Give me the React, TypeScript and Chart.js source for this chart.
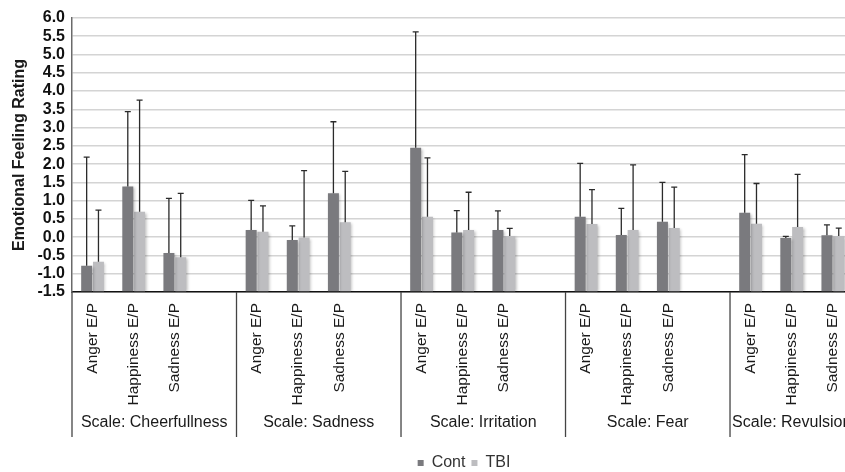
import React, { useEffect, useRef } from "react";
import { Chart, registerables } from "chart.js";

Chart.register(...registerables);

// ---------- data ----------
const scaleNames = [
  "Scale: Cheerfullness",
  "Scale: Sadness",
  "Scale: Irritation",
  "Scale: Fear",
  "Scale: Revulsion",
];
const emotionLabels = ["Anger E/P", "Happiness E/P", "Sadness E/P", ""];
// last group has no trailing blank slot
const groupSizes = [4, 4, 4, 4, 3];
const categories = scaleNames.flatMap((_, g) => emotionLabels.slice(0, groupSizes[g]));

const contMeans = [-0.78, 1.39, -0.43, null, 0.2, -0.08, 1.2, null, 2.45, 0.13, 0.2, null, 0.56, 0.06, 0.42, null, 0.67, -0.02, 0.05];
const contSD = [2.97, 2.05, 1.49, null, 0.81, 0.39, 1.96, null, 3.17, 0.6, 0.52, null, 1.46, 0.73, 1.08, null, 1.59, 0.04, 0.29];
const tbiMeans = [-0.67, 0.7, -0.55, null, 0.15, -0.01, 0.41, null, 0.56, 0.2, 0.03, null, 0.36, 0.2, 0.25, null, 0.37, 0.28, 0.03];
const tbiSD = [1.41, 3.05, 1.75, null, 0.71, 1.83, 1.39, null, 1.61, 1.03, 0.21, null, 0.94, 1.78, 1.12, null, 1.1, 1.44, 0.22];

const yMin = -1.5;
const yMax = 6.0;
const yStep = 0.5;
const seriesNames = ["Cont", "TBI"];
const yTitle = "Emotional Feeling Rating";

const errorArrays = [contSD, tbiSD];

const FONT = "'Liberation Sans', Arial, Helvetica, sans-serif";

const errorBarPlugin = {
  id: "errorBars",
  beforeDatasetsDraw(chart: any) {
    const ctx = chart.ctx;
    ctx.save();
    ctx.shadowColor = "rgba(0,0,0,0.28)";
    ctx.shadowBlur = 3;
    ctx.shadowOffsetX = 1.5;
    ctx.shadowOffsetY = 1;
  },
  afterDatasetsDraw(chart: any) {
    const ctx = chart.ctx;
    ctx.restore();
    const ys = chart.scales.y;
    chart.data.datasets.forEach((ds: any, di: number) => {
      const meta = chart.getDatasetMeta(di);
      const errs = errorArrays[di];
      meta.data.forEach((el: any, i: number) => {
        const v = ds.data[i];
        const e = errs[i];
        if (v == null || e == null) return;
        const x = el.x;
        const y0 = ys.getPixelForValue(v);
        const y1 = ys.getPixelForValue(v + e);
        ctx.save();
        ctx.strokeStyle = "#2b2b2b";
        ctx.lineWidth = 1.3;
        ctx.beginPath();
        ctx.moveTo(x, y0);
        ctx.lineTo(x, y1);
        ctx.moveTo(x - 3, y1);
        ctx.lineTo(x + 3, y1);
        ctx.stroke();
        ctx.restore();
      });
    });
  },
};

const groupAxisPlugin = {
  id: "groupAxis",
  afterDraw(chart: any) {
    const ctx = chart.ctx;
    const xs = chart.scales.x;
    const w = (xs.right - xs.left) / categories.length;
    const top = chart.chartArea.bottom;
    const bottom = top + 145;
    ctx.save();
    ctx.strokeStyle = "#444";
    ctx.lineWidth = 1.3;
    let start = 0;
    const bounds: number[] = [0];
    groupSizes.forEach((n) => {
      start += n;
      bounds.push(start);
    });
    bounds.forEach((b) => {
      const bx = xs.left + b * w;
      ctx.beginPath();
      ctx.moveTo(bx, top);
      ctx.lineTo(bx, bottom);
      ctx.stroke();
    });
    ctx.fillStyle = "#1a1a1a";
    ctx.font = `16px ${FONT}`;
    ctx.textAlign = "center";
    ctx.textBaseline = "middle";
    scaleNames.forEach((name, g) => {
      const left = xs.left + bounds[g] * w;
      const right = xs.left + bounds[g + 1] * w;
      const tw = ctx.measureText(name).width;
      let cx = (left + right) / 2;
      cx = Math.max(cx, left + tw / 2 + 2);
      ctx.fillText(name, cx, top + 131);
    });
    ctx.restore();
  },
};

export default function App() {
  const ref = useRef<HTMLCanvasElement | null>(null);

  useEffect(() => {
    if (!ref.current) return;
    const chart = new Chart(ref.current, {
      type: "bar",
      data: {
        labels: categories,
        datasets: [
          {
            label: seriesNames[0],
            data: contMeans as any,
            backgroundColor: "#7a7a7e",
            base: yMin,
            categoryPercentage: 0.574,
            barPercentage: 0.93,
          } as any,
          {
            label: seriesNames[1],
            data: tbiMeans as any,
            backgroundColor: "#bdbdc0",
            base: yMin,
            categoryPercentage: 0.574,
            barPercentage: 0.93,
          } as any,
        ],
      },
      options: {
        animation: false,
        responsive: false,
        maintainAspectRatio: false,
        devicePixelRatio: 1,
        layout: { padding: { top: 18, bottom: -9, left: 0, right: 0 } },
        plugins: {
          tooltip: { enabled: false },
          legend: {
            position: "bottom",
            labels: {
              boxWidth: 6,
              boxHeight: 6,
              padding: 6,
              color: "#333",
              font: { family: FONT, size: 16 },
            },
          },
        },
        scales: {
          x: {
            grid: { display: false, drawTicks: false },
            border: { display: true, color: "#111", width: 1.5 },
            ticks: {
              autoSkip: false,
              minRotation: 90,
              maxRotation: 90,
              padding: 11,
              color: "#1a1a1a",
              font: { family: FONT, size: 15.5 },
            },
            afterFit: (s: any) => {
              s.height = 157;
            },
          },
          y: {
            min: yMin,
            max: yMax,
            grid: { color: "#d4d4d4", lineWidth: 1.6, drawTicks: false },
            border: { display: true, color: "#6a6a6a", width: 1.5 },
            ticks: {
              autoSkip: false,
              stepSize: yStep,
              padding: 7,
              color: "#111",
              font: { family: FONT, size: 16, weight: "bold" },
              callback: (v: any) => Number(v).toFixed(1),
            },
            title: {
              display: true,
              text: yTitle,
              color: "#1a1a1a",
              font: { family: FONT, size: 16, weight: "bold" },
              padding: { top: 10, bottom: 0 },
            },
            afterFit: (s: any) => {
              s.width = 72;
            },
          },
          yRight: {
            position: "right",
            display: true,
            min: 0,
            max: 1,
            grid: { display: false, drawTicks: false },
            border: { display: false },
            ticks: { display: false },
            afterFit: (s: any) => {
              s.width = 74.6;
            },
          },
        },
      },
      plugins: [errorBarPlugin, groupAxisPlugin],
    });
    return () => chart.destroy();
  }, []);

  return (
    <div
      style={{
        position: "fixed",
        left: 0,
        top: 0,
        width: 845,
        height: 472,
        overflow: "hidden",
        background: "#fff",
      }}
    >
      <canvas ref={ref} width={928} height={472} style={{ display: "block" }} />
    </div>
  );
}
